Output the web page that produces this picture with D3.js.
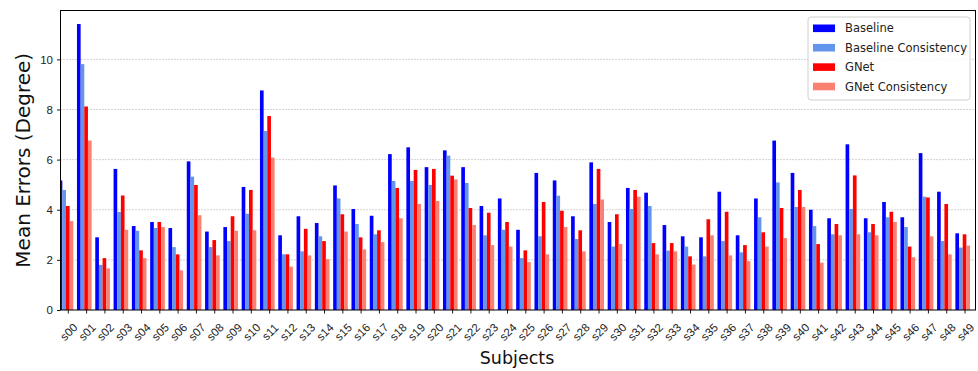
<!DOCTYPE html>
<html>
<head>
<meta charset="utf-8">
<script src="https://cdn.jsdelivr.net/npm/d3@7"></script>
<style>
  html, body { margin: 0; padding: 0; background: #fff; }
  svg { display: block; font-family: "DejaVu Sans", sans-serif; }
</style>
</head>
<body>
<svg id="chart" width="978" height="371"></svg>
<script>
const subjects = Array.from({length: 50}, (_, i) => "s" + String(i).padStart(2, "0"));
const seriesNames = ["Baseline", "Baseline Consistency", "GNet", "GNet Consistency"];
const seriesColors = ["#0000ff", "#6495ed", "#ff0000", "#fa8072"];

const baseline = [5.17, 11.41, 2.90, 5.63, 3.35, 3.51, 3.27, 5.93, 3.13, 3.31,
                  4.91, 8.76, 2.98, 3.74, 3.47, 4.97, 4.03, 3.76, 6.22, 6.49,
                  5.70, 6.37, 5.70, 4.15, 4.45, 3.20, 5.47, 5.17, 3.74, 5.89,
                  3.51, 4.87, 4.68, 3.39, 2.94, 2.90, 4.72, 2.98, 4.45, 6.76,
                  5.47, 4.00, 3.66, 6.61, 3.66, 4.31, 3.70, 6.26, 4.72, 3.06];
const baselineConsistency = [4.79, 9.81, 1.80, 3.91, 3.16, 3.27, 2.51, 5.32, 2.51, 2.75,
                  3.84, 7.14, 2.22, 2.34, 2.94, 4.45, 3.43, 3.02, 5.15, 5.15,
                  4.99, 6.16, 5.07, 2.98, 3.20, 2.07, 2.94, 4.56, 2.83, 4.23,
                  2.53, 4.03, 4.15, 2.37, 2.53, 2.14, 2.75, 2.30, 3.70, 5.09,
                  4.11, 3.35, 3.02, 4.03, 3.10, 3.70, 3.31, 4.52, 2.75, 2.49];
const gnet = [4.15, 8.12, 2.07, 4.57, 2.38, 3.51, 2.22, 4.99, 2.79, 3.74,
              4.79, 7.74, 2.22, 3.24, 2.75, 3.82, 2.90, 3.18, 4.87, 5.59,
              5.63, 5.36, 4.07, 3.88, 3.51, 2.38, 4.31, 3.96, 3.18, 5.63,
              3.82, 4.79, 2.67, 2.67, 2.14, 3.62, 3.92, 2.59, 3.10, 4.07,
              4.79, 2.63, 3.43, 5.37, 3.43, 3.92, 2.53, 4.49, 4.23, 3.02];
const gnetConsistency = [3.55, 6.76, 1.66, 3.20, 2.07, 3.31, 1.58, 3.78, 2.18, 3.16,
              3.18, 6.08, 1.73, 2.18, 2.03, 3.13, 2.42, 2.71, 3.66, 4.23,
              4.35, 5.21, 3.39, 2.59, 2.53, 1.91, 2.22, 3.31, 2.34, 4.41,
              2.63, 4.52, 2.22, 2.34, 1.81, 2.98, 2.18, 1.95, 2.53, 2.87,
              4.11, 1.89, 2.98, 3.02, 2.98, 3.51, 2.11, 2.94, 2.22, 2.57];
const yTicks = [0, 2, 4, 6, 8, 10];

const allSeries = [baseline, baselineConsistency, gnet, gnetConsistency];
const offsets = [-0.4, -0.2, 0, 0.2];
const barW = 0.2;

const svg = d3.select("#chart");
const L = 60.5, R = 975.5, T = 10.5, B = 310;

const x = d3.scaleLinear().domain([-0.4, 49.6]).range([L, R]);
const y = d3.scaleLinear().domain([0, 11.95]).range([B, T]);

svg.append("defs").append("clipPath").attr("id", "plotclip")
  .append("rect").attr("x", L).attr("y", T).attr("width", R - L).attr("height", B - T);

// grid
svg.append("g").selectAll("line").data(yTicks.filter(d => d > 0)).join("line")
  .attr("x1", L).attr("x2", R)
  .attr("y1", d => y(d)).attr("y2", d => y(d))
  .attr("stroke", "#a8a8a8").attr("stroke-width", 1)
  .attr("stroke-dasharray", "1,2");

// bars
const barsG = svg.append("g").attr("clip-path", "url(#plotclip)");
allSeries.forEach((vals, s) => {
  barsG.append("g").selectAll("rect").data(vals).join("rect")
    .attr("x", (d, i) => x(i + offsets[s] - barW / 2))
    .attr("width", (d, i) => x(i + offsets[s] + barW / 2) - x(i + offsets[s] - barW / 2))
    .attr("y", d => y(d))
    .attr("height", d => y(0) - y(d))
    .attr("fill", seriesColors[s]);
});

// axes
const xAxis = d3.axisBottom(x).tickValues(d3.range(50)).tickFormat(i => subjects[i]).tickSize(3.5).tickPadding(2);
const gx = svg.append("g").attr("transform", `translate(0,${B})`).call(xAxis);
gx.select(".domain").remove();
gx.selectAll(".tick line").attr("stroke", "#000").attr("stroke-width", 0.9);
gx.selectAll(".tick text")
  .attr("font-size", 11.5).attr("fill", "#222")
  .attr("text-anchor", "middle").attr("dominant-baseline", "central")
  .attr("y", 0).attr("dy", null)
  .attr("transform", "translate(0.5,22) rotate(-45)");

const yAxis = d3.axisLeft(y).tickValues(yTicks).tickSize(3.5).tickPadding(4);
const gy = svg.append("g").attr("transform", `translate(${L},0)`).call(yAxis);
gy.select(".domain").remove();
gy.selectAll(".tick line").attr("stroke", "#000").attr("stroke-width", 0.9);
gy.selectAll(".tick text").attr("font-size", 11.5).attr("fill", "#222");

// frame
svg.append("rect").attr("x", L).attr("y", T).attr("width", R - L).attr("height", B - T)
  .attr("fill", "none").attr("stroke", "#000").attr("stroke-width", 1);

// labels
svg.append("text").attr("x", (L + R) / 2 - 1).attr("y", 364)
  .attr("text-anchor", "middle").attr("font-size", 17.5).attr("fill", "#111")
  .text("Subjects");
svg.append("text").attr("transform", `translate(30,${(T + B) / 2}) rotate(-90)`)
  .attr("text-anchor", "middle").attr("font-size", 20).attr("fill", "#111")
  .text("Mean Errors (Degree)");

// legend
const lg = svg.append("g").attr("transform", "translate(808,17)");
lg.append("rect").attr("width", 162).attr("height", 83).attr("rx", 3)
  .attr("fill", "#fff").attr("fill-opacity", 0.85).attr("stroke", "#d0d0d0").attr("stroke-width", 1);
seriesNames.forEach((name, i) => {
  const cy = 11.3 + i * 19.4;
  lg.append("rect").attr("x", 5).attr("y", cy - 3.8).attr("width", 22).attr("height", 7.6)
    .attr("fill", seriesColors[i]);
  lg.append("text").attr("x", 37).attr("y", cy).attr("dominant-baseline", "central")
    .attr("font-size", 11.5).attr("fill", "#222").text(name);
});
</script>
</body>
</html>
